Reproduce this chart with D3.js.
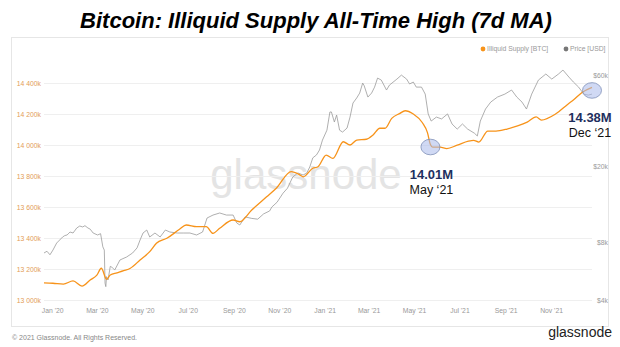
<!DOCTYPE html>
<html><head><meta charset="utf-8">
<script src="https://cdn.jsdelivr.net/npm/d3@7"></script>
<style>
html,body{margin:0;padding:0;background:#fff;}
svg{display:block;font-family:"Liberation Sans",Arial,Helvetica,sans-serif;}
</style></head>
<body><svg id="c" width="620" height="347"></svg>
<script>
const title = "Bitcoin: Illiquid Supply All-Time High (7d MA)";
const leftTicks = [13000, 13200, 13400, 13600, 13800, 14000, 14200, 14400];
const leftTickLabels = ["13 000k","13 200k","13 400k","13 600k","13 800k","14 000k","14 200k","14 400k"];
const rightTicks = [4000, 8000, 20000, 60000];
const rightTickLabels = ["$4k","$8k","$20k","$60k"];
const xTickDates = ["2020-01-01","2020-03-01","2020-05-01","2020-07-01","2020-09-01","2020-11-01","2021-01-01","2021-03-01","2021-05-01","2021-07-01","2021-09-01","2021-11-01"];
const xTickLabels = ["Jan '20","Mar '20","May '20","Jul '20","Sep '20","Nov '20","Jan '21","Mar '21","May '21","Jul '21","Sep '21","Nov '21"];
const legendLabels = ["Illiquid Supply [BTC]","Price [USD]"];

const priceDates = ["2019-12-21","2019-12-25","2019-12-29","2020-01-02","2020-01-07","2020-01-11","2020-01-15","2020-01-18","2020-01-21","2020-01-25","2020-01-29","2020-02-03","2020-02-07","2020-02-11","2020-02-14","2020-02-18","2020-02-21","2020-02-25","2020-03-02","2020-03-06","2020-03-09","2020-03-11","2020-03-12","2020-03-13","2020-03-14","2020-03-16","2020-03-19","2020-03-21","2020-03-25","2020-04-01","2020-04-10","2020-04-18","2020-04-24","2020-04-28","2020-05-02","2020-05-07","2020-05-11","2020-05-18","2020-05-25","2020-06-01","2020-06-07","2020-06-17","2020-06-25","2020-07-04","2020-07-13","2020-07-21","2020-07-27","2020-08-04","2020-08-13","2020-08-22","2020-08-31","2020-09-05","2020-09-09","2020-09-16","2020-09-25","2020-10-03","2020-10-11","2020-10-19","2020-10-22","2020-10-29","2020-11-06","2020-11-12","2020-11-19","2020-11-26","2020-12-03","2020-12-08","2020-12-12","2020-12-16","2020-12-21","2020-12-25","2020-12-29","2021-01-04","2021-01-08","2021-01-10","2021-01-14","2021-01-17","2021-01-21","2021-01-25","2021-01-31","2021-02-04","2021-02-08","2021-02-13","2021-02-17","2021-02-21","2021-02-23","2021-02-28","2021-03-05","2021-03-09","2021-03-13","2021-03-18","2021-03-25","2021-03-29","2021-04-08","2021-04-14","2021-04-21","2021-04-25","2021-04-30","2021-05-04","2021-05-11","2021-05-16","2021-05-20","2021-05-24","2021-05-31","2021-06-07","2021-06-15","2021-06-21","2021-06-28","2021-07-05","2021-07-12","2021-07-21","2021-07-25","2021-07-29","2021-08-05","2021-08-12","2021-08-21","2021-08-31","2021-09-09","2021-09-16","2021-09-23","2021-09-29","2021-10-06","2021-10-15","2021-10-25","2021-11-02","2021-11-11","2021-11-17","2021-11-25","2021-12-01","2021-12-08","2021-12-15","2021-12-21","2021-12-26"];
const priceValues = [7050,7200,6900,7300,7950,8240,8550,8700,8760,9080,8970,9530,9760,9650,9800,9530,9400,8970,8760,8900,7600,7300,4900,4700,5300,5090,6000,5950,5740,6480,6720,7050,7500,8240,8970,9300,8550,8970,8550,9300,9080,8970,8970,8970,8760,9080,10750,11140,11420,11140,11140,10120,9880,10900,10700,10600,11300,11700,12270,13000,14500,15400,17600,18500,18050,18500,19900,22200,23000,24400,27500,31000,38600,38600,34200,37200,31000,30300,31800,36300,43000,45700,48500,54700,53000,46200,48500,52100,58100,56700,50300,53400,57400,60200,57400,54100,55400,52100,52100,47900,37700,34600,36300,35500,37700,33400,31400,33400,31400,29900,28900,34600,40000,43500,46200,47900,50300,46200,43500,40000,47900,56700,61000,57400,61000,64000,58800,55400,52100,47900,47300,47900];

const supplyDates = ["2019-12-21","2020-01-02","2020-01-16","2020-01-29","2020-02-10","2020-02-21","2020-03-01","2020-03-07","2020-03-14","2020-03-19","2020-03-28","2020-04-06","2020-04-15","2020-04-28","2020-05-11","2020-05-20","2020-06-03","2020-06-20","2020-06-29","2020-07-13","2020-07-26","2020-08-04","2020-08-13","2020-08-31","2020-09-09","2020-09-25","2020-10-15","2020-10-28","2020-11-17","2020-11-29","2020-12-03","2020-12-16","2020-12-23","2021-01-03","2021-01-12","2021-01-26","2021-02-04","2021-02-13","2021-02-26","2021-03-07","2021-03-16","2021-03-23","2021-04-01","2021-04-12","2021-04-19","2021-04-30","2021-05-12","2021-05-19","2021-05-23","2021-05-26","2021-06-05","2021-06-14","2021-06-28","2021-07-13","2021-07-20","2021-07-27","2021-08-08","2021-08-19","2021-09-03","2021-09-17","2021-09-30","2021-10-12","2021-10-19","2021-11-07","2021-11-24","2021-12-01","2021-12-13","2021-12-26"];
const supplyValues = [13110,13108,13103,13123,13090,13129,13160,13205,13134,13161,13175,13189,13205,13258,13312,13366,13398,13456,13484,13473,13473,13430,13463,13516,13505,13581,13666,13721,13828,13806,13795,13850,13860,13935,13914,14021,14000,14032,14037,14065,14108,14108,14172,14204,14221,14200,14145,14080,14003,13986,13986,13977,13999,14025,14030,14019,14090,14090,14103,14123,14148,14181,14161,14200,14265,14290,14340,14372];

const annDates = ["2021-05-23","2021-12-26"];
const annValues = [13987,14352];
const annValueLabels = ["14.01M","14.38M"];
const annDateLabels = ["May \u201821","Dec \u201821"];

const parse = d3.timeParse("%Y-%m-%d");
const svg = d3.select("#c");

// panel
svg.append("rect").attr("x",11.5).attr("y",37.5).attr("width",597).attr("height",289)
  .attr("fill","#fff").attr("stroke","#e6e6e6");

// title
svg.append("text").attr("x",316).attr("y",28).attr("text-anchor","middle")
  .attr("font-size",22).attr("font-weight","bold").attr("font-style","italic").attr("fill","#000").text(title);

const x = d3.scaleTime().domain([parse("2019-12-21"), parse("2021-12-26")]).range([44, 592]);
const yL = d3.scaleLinear().domain([13000,14400]).range([300,83]);
const yR = d3.scaleLog().domain([4000,60000]).range([300,75.4]);

// watermark
svg.append("text").attr("x",306).attr("y",189).attr("text-anchor","middle")
  .attr("font-size",42).attr("fill","#e4e4e4").attr("font-family","'Liberation Sans',Arial,sans-serif")
  .text("glassnode");

// grid + left axis
const gL = svg.append("g").attr("transform","translate(44,0)")
  .call(d3.axisLeft(yL).tickValues(leftTicks).tickSize(-548).tickPadding(3)
    .tickFormat((d,i)=>leftTickLabels[i]));
gL.select(".domain").remove();
gL.selectAll(".tick line").attr("stroke","#efefef");
gL.selectAll(".tick text").attr("fill","#e39d56").attr("font-size",6.8).attr("font-family","'Liberation Sans',Arial,sans-serif");

// right axis
const gR = svg.append("g").attr("transform","translate(608,0)")
  .call(d3.axisLeft(yR).tickValues(rightTicks).tickSize(0).tickPadding(0)
    .tickFormat((d,i)=>rightTickLabels[i]));
gR.select(".domain").remove();
gR.selectAll(".tick text").attr("fill","#999").attr("font-size",6.8).attr("font-family","'Liberation Sans',Arial,sans-serif");

// x axis
const gX = svg.append("g").attr("transform","translate(0,305)")
  .call(d3.axisBottom(x).tickValues(xTickDates.map(parse)).tickSize(0).tickPadding(3)
    .tickFormat((d,i)=>xTickLabels[i]));
gX.select(".domain").remove();
gX.selectAll(".tick text").attr("fill","#999").attr("font-size",6.8).attr("font-family","'Liberation Sans',Arial,sans-serif");

// price line
const price = priceDates.map((d,i)=>({d:parse(d), v:priceValues[i]}));
svg.append("path").datum(price)
  .attr("d", d3.line().x(p=>x(p.d)).y(p=>yR(p.v)))
  .attr("fill","none").attr("stroke","#9a9a9a").attr("stroke-width",0.8);

// supply line
const supply = supplyDates.map((d,i)=>({d:parse(d), v:supplyValues[i]}));
svg.append("path").datum(supply)
  .attr("d", d3.line().curve(d3.curveMonotoneX).x(p=>x(p.d)).y(p=>yL(p.v)))
  .attr("fill","none").attr("stroke","#f7931a").attr("stroke-width",1.3);

// legend
const leg = svg.append("g").attr("font-size",6.8).attr("fill","#999");
leg.append("circle").attr("cx",483).attr("cy",49).attr("r",2.4).attr("fill","#f7931a");
leg.append("text").attr("x",487).attr("y",51.4).text(legendLabels[0]);
leg.append("circle").attr("cx",566).attr("cy",49).attr("r",2.4).attr("fill","#777");
leg.append("text").attr("x",570).attr("y",51.4).text(legendLabels[1]);

// annotations
const annOff = [[1,0],[-2,0]];
annDates.forEach((d,i)=>{
  const cx = x(parse(d)), cy = yL(annValues[i]);
  svg.append("ellipse").attr("cx",cx).attr("cy",cy).attr("rx",9.5).attr("ry",7.8)
    .attr("fill","rgba(170,185,235,0.55)").attr("stroke","#8090b8").attr("stroke-width",0.8);
  const tx = cx + annOff[i][0];
  svg.append("text").attr("x",tx).attr("y",cy+32).attr("text-anchor","middle")
    .attr("font-size",13).attr("font-weight","bold").attr("fill","#1e2f5e").text(annValueLabels[i]);
  svg.append("text").attr("x",tx).attr("y",cy+47).attr("text-anchor","middle")
    .attr("font-size",12.5).attr("fill","#111").text(annDateLabels[i]);
});

// footer
svg.append("text").attr("x",12).attr("y",340).attr("font-size",7).attr("fill","#888")
  .text("\u00a9 2021 Glassnode. All Rights Reserved.");
svg.append("text").attr("x",612).attr("y",337).attr("text-anchor","end").attr("font-size",14)
  .attr("fill","#222").attr("font-family","'Liberation Sans',Arial,sans-serif")
  .text("glassnode");
</script></body></html>
